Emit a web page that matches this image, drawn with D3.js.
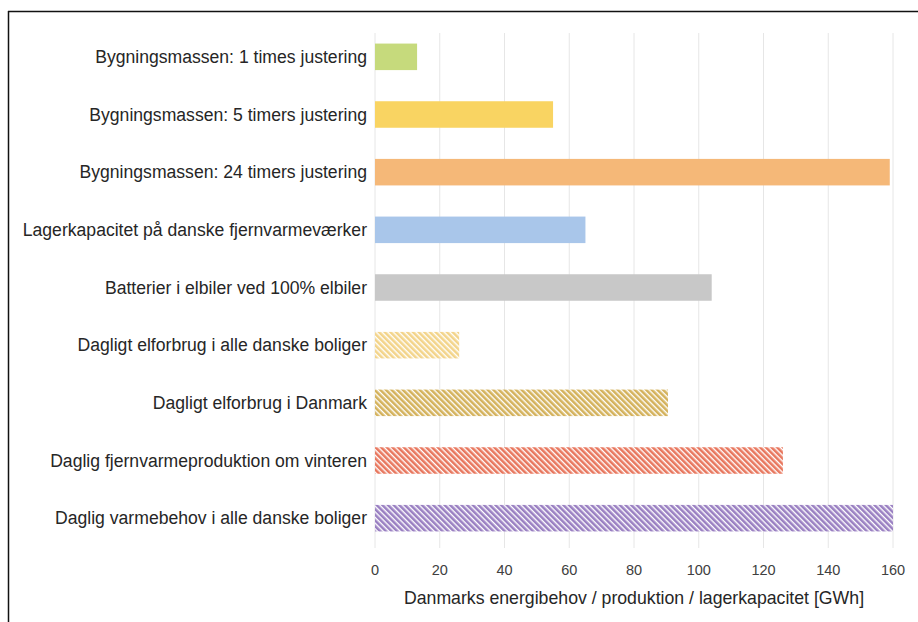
<!DOCTYPE html>
<html><head><meta charset="utf-8">
<script src="https://cdn.jsdelivr.net/npm/d3@7"></script>
<style>body{margin:0;background:#fff;}svg{display:block;font-family:"Liberation Sans",Arial,sans-serif;}</style>
</head><body><svg id="c" width="918" height="622"></svg>
<script>
const categories = [
  "Bygningsmassen: 1 times justering",
  "Bygningsmassen: 5 timers justering",
  "Bygningsmassen: 24 timers justering",
  "Lagerkapacitet på danske fjernvarmeværker",
  "Batterier i elbiler ved 100% elbiler",
  "Dagligt elforbrug i alle danske boliger",
  "Dagligt elforbrug i Danmark",
  "Daglig fjernvarmeproduktion om vinteren",
  "Daglig varmebehov i alle danske boliger"
];
const values = [13, 55, 159, 65, 104, 26, 90.5, 126, 160];
const colors = ["#c6da7c","#f9d462","#f5b878","#a9c6ea","#c8c8c8","#f3d48a","#d4b25c","#e8775e","#9a80c2"];
const hatched = [false,false,false,false,false,true,true,true,true];
const xTicks = [0,20,40,60,80,100,120,140,160];
const xTitle = "Danmarks energibehov / produktion / lagerkapacitet [GWh]";

const svg = d3.select("#c");
const x = d3.scaleLinear().domain([0,160]).range([375,893]);
const y = d3.scaleBand().domain(categories).range([28,547]).paddingInner(0.54).paddingOuter(0.27);

// border
svg.append("line").attr("x1",8).attr("x2",918).attr("y1",11.5).attr("y2",11.5).attr("stroke","#111").attr("stroke-width",1.5);
svg.append("line").attr("x1",8.5).attr("x2",8.5).attr("y1",11).attr("y2",622).attr("stroke","#111").attr("stroke-width",1.5);

const defs = svg.append("defs");
colors.forEach((c,i)=>{
  if(!hatched[i]) return;
  const p = defs.append("pattern").attr("id","h"+i).attr("patternUnits","userSpaceOnUse")
    .attr("width",4).attr("height",4).attr("patternTransform","rotate(-45)");
  p.append("rect").attr("width",4).attr("height",4).attr("fill","#fff");
  p.append("rect").attr("x",0).attr("width",2.6).attr("height",4).attr("fill",c);
});

// gridlines
svg.append("g").selectAll("line").data(xTicks).join("line")
  .attr("x1",d=>x(d)).attr("x2",d=>x(d)).attr("y1",33).attr("y2",548)
  .attr("stroke","#e6e6e6").attr("stroke-width",1);

// bars
svg.append("g").selectAll("rect").data(values).join("rect")
  .attr("x",x(0)).attr("y",(d,i)=>y(categories[i]))
  .attr("width",d=>x(d)-x(0)).attr("height",y.bandwidth())
  .attr("fill",(d,i)=>hatched[i]?`url(#h${i})`:colors[i]);

// category labels
svg.append("g").selectAll("text").data(categories).join("text")
  .attr("x",367).attr("y",d=>y(d)+y.bandwidth()/2).attr("dy","0.35em")
  .attr("text-anchor","end").attr("font-size",17.6).attr("fill","#262626").text(d=>d);

// x tick labels
svg.append("g").selectAll("text").data(xTicks).join("text")
  .attr("x",d=>x(d)).attr("y",575).attr("text-anchor","middle")
  .attr("font-size",14.5).attr("fill","#404040").text(d=>d);

svg.append("text").attr("x",634).attr("y",604).attr("text-anchor","middle")
  .attr("font-size",17.7).attr("fill","#262626").text(xTitle);
</script></body></html>
